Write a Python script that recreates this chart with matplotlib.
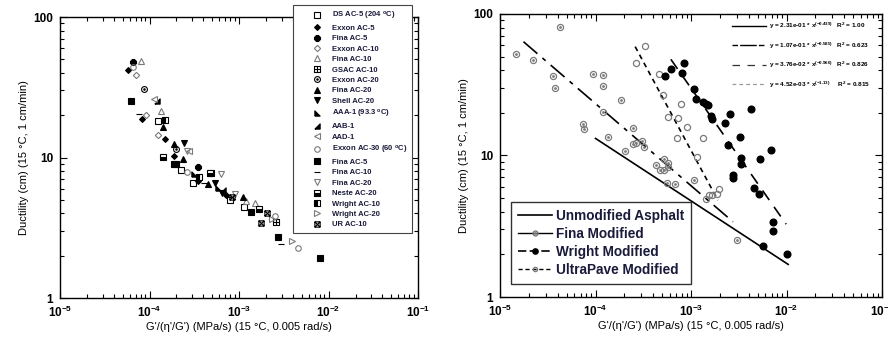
import numpy as np
import matplotlib
matplotlib.use("Agg")
import matplotlib.pyplot as plt
import matplotlib.ticker as mticker
from matplotlib.lines import Line2D
from matplotlib.path import Path

plt.rcParams['font.family'] = ['Liberation Sans', 'DejaVu Sans']
plt.rcParams['font.weight'] = 'bold'
plt.rcParams['mathtext.fontset'] = 'custom'
plt.rcParams['mathtext.rm'] = 'Liberation Sans:bold'
plt.rcParams['mathtext.it'] = 'Liberation Sans:bold'
plt.rcParams['mathtext.bf'] = 'Liberation Sans:bold'
plt.rcParams['mathtext.default'] = 'rm'

#--------------------------- left panel data ---------------------------
left_labels = ['DS AC-5 (204 $^{o}$C)', 'Exxon AC-5', 'Fina AC-5', 'Exxon AC-10', 'Fina AC-10',
               'GSAC AC-10', 'Exxon AC-20', 'Fina AC-20', 'Shell AC-20', 'AAA-1 (93.3 $^{o}$C)',
               'AAB-1', 'AAD-1', 'Exxon AC-30 (60 $^{o}$C)', 'Fina AC-5', 'Fina AC-10',
               'Fina AC-20', 'Neste AC-20', 'Wright AC-10', 'Wright AC-20', 'UR AC-10']

left_x = [[1.23e-4, 2.26e-4, 3.05e-4, 7.89e-4, 1.13e-3],
          [5.69e-5, 8.34e-5, 1.50e-4, 1.89e-4, 3.48e-4, 7.06e-4],
          [6.53e-5, 3.48e-4],
          [7.0e-5, 9.2e-5, 1.25e-4],
          [7.98e-5, 1.34e-4, 1.19e-3, 1.51e-3],
          [4.91e-4, 2.59e-3],
          [8.7e-5, 1.98e-4],
          [1.40e-4, 1.89e-4, 2.36e-4, 4.51e-4, 1.12e-3],
          [2.42e-4, 5.36e-4, 6.37e-4],
          [3.13e-4, 5.85e-4],
          [1.21e-4, 6.6e-4],
          [1.13e-4, 2.79e-4],
          [6.5e-5, 2.61e-4, 2.50e-3, 4.58e-3],
          [6.27e-5, 1.88e-4, 2.0e-4, 1.36e-3, 2.72e-3, 7.96e-3],
          [7.64e-5, 4.1e-4, 2.97e-3],
          [2.63e-4, 6.25e-4, 9.0e-4],
          [1.42e-4, 4.70e-4, 1.65e-3],
          [1.50e-4, 3.53e-4],
          [2.33e-3, 3.92e-3],
          [8.26e-4, 2.05e-3, 1.77e-3]]

left_y = [[18.3, 8.15, 6.62, 4.99, 4.47],
          [42.0, 18.9, 13.6, 10.3, 6.80, 5.41],
          [48.1, 8.6],
          [38.7, 20.0, 14.5],
          [48.6, 21.5, 4.90, 4.72],
          [7.76, 3.49],
          [30.6, 11.5],
          [16.6, 12.5, 9.71, 6.44, 5.26],
          [12.7, 6.55, 5.56],
          [7.63, 6.04],
          [25.4, 5.9],
          [26.2, 11.1],
          [44.0, 7.93, 3.85, 2.26],
          [25.2, 9.0, 9.0, 4.11, 2.73, 1.94],
          [20.4, 6.6, 2.41],
          [11.1, 7.59, 5.50],
          [10.1, 7.80, 4.30],
          [18.5, 7.30],
          [3.63, 2.56],
          [5.26, 4.01, 3.43]]

#--------------------------- right panel data ---------------------------
fina_x = [1.47e-5, 2.19e-5, 3.56e-5, 3.8e-5, 4.28e-5, 9.4e-5, 1.19e-4, 1.21e-4, 1.85e-4, 1.19e-4,
          7.4e-5, 7.66e-5, 1.36e-4, 2.49e-4, 2.49e-4, 2.64e-4, 3.05e-4, 3.25e-4, 2.04e-4, 4.28e-4,
          5.15e-4, 5.15e-4, 5.77e-4, 5.77e-4, 4.75e-4, 5.55e-4, 6.84e-4, 1.08e-3, 3.05e-3]
fina_y = [51.9, 47.3, 36.4, 30.1, 81.3, 37.6, 37.0, 31.1, 24.6, 20.4,
          16.6, 15.4, 13.5, 15.6, 12.0, 12.2, 12.6, 11.5, 10.7, 8.55,
          9.37, 7.87, 8.87, 8.3, 7.87, 6.41, 6.24, 6.68, 2.52]

wright_x = [5.37e-4, 6.16e-4, 8.51e-4, 7.97e-4, 1.08e-3, 1.13e-3, 1.33e-3, 1.44e-3, 1.49e-3, 1.63e-3,
            1.67e-3, 2.28e-3, 2.55e-3, 4.22e-3, 2.45e-3, 3.28e-3, 3.36e-3, 3.31e-3, 2.77e-3, 2.77e-3,
            5.24e-3, 6.84e-3, 4.57e-3, 5.16e-3, 7.24e-3, 7.24e-3, 5.67e-3, 1.0e-2]
wright_y = [36.4, 40.8, 44.8, 38.0, 29.3, 25.0, 24.0, 23.1, 22.7, 19.1,
            18.1, 17.1, 19.6, 21.3, 11.8, 13.6, 9.53, 8.69, 7.27, 6.98,
            9.42, 10.9, 5.85, 5.38, 3.40, 2.93, 2.30, 2.0]

ultra_x = [3.3e-4, 2.68e-4, 4.65e-4, 5.04e-4, 5.68e-4, 7.85e-4, 7.24e-4, 9.08e-4, 7.06e-4, 1.33e-3,
           1.15e-3, 1.42e-3, 1.56e-3, 1.64e-3, 1.88e-3, 1.94e-3]
ultra_y = [59.7, 44.8, 37.6, 26.7, 18.8, 23.3, 18.3, 16.0, 13.4, 13.3,
           9.8, 4.91, 5.24, 5.24, 5.33, 5.8]

# fitted power laws, end points
unmod_fit_x = [1.0e-4, 1.04e-2]
unmod_fit_y = [13.2, 1.70]
fina_fit_x = [1.76e-5, 2.75e-3]
fina_fit_y = [63.7, 3.40]
wright_fit_x = [6.15e-4, 9.9e-3]
wright_fit_y = [47.8, 3.27]
ultra_fit_x = [2.6e-4, 1.91e-3]
ultra_fit_y = [58.8, 4.83]

fit_labels = ['y = 2.31e-01 * x$^{(-0.439)}$   R$^2$ = 1.00',
              'y = 1.07e-01 * x$^{(-0.585)}$   R$^2$ = 0.623',
              'y = 3.76e-02 * x$^{(-0.966)}$   R$^2$ = 0.826',
              'y = 4.52e-03 * x$^{(-1.13)}$     R$^2$ = 0.815']

#--------------------------- marker shapes ---------------------------
circ = Path.unit_circle()
odot = Path.make_compound_path(circ, Path(circ.vertices * 0.25, circ.codes))
sq_v = [(-1, -1), (1, -1), (1, 1), (-1, 1), (-1, -1)]
sq_c = [Path.MOVETO, Path.LINETO, Path.LINETO, Path.LINETO, Path.CLOSEPOLY]
boxplus = Path(sq_v + [(-1, 0), (1, 0), (0, -1), (0, 1)],
               sq_c + [Path.MOVETO, Path.LINETO, Path.MOVETO, Path.LINETO])
boxtimes = Path(sq_v + [(-1, -1), (1, 1), (-1, 1), (1, -1)],
                sq_c + [Path.MOVETO, Path.LINETO, Path.MOVETO, Path.LINETO])
tri_ll = [(-1, -1), (1, -1), (-1, 1), (-1, -1)]
tri_lr = [(-1, -1), (1, -1), (1, 1), (-1, -1)]

G = '#7a7a7a'
K = 'black'
# marker, face, edge, size, fillstyle
left_styles = [('s', 'none', K, 3.8, 'full'),
               ('D', K, K, 3.0, 'full'),
               ('8', K, K, 4.0, 'full'),
               ('D', 'none', G, 3.2, 'full'),
               ('^', 'none', G, 3.8, 'full'),
               (boxplus, 'none', K, 3.8, 'full'),
               (odot, 'none', K, 4.2, 'full'),
               ('^', K, K, 4.0, 'full'),
               ('v', K, K, 4.0, 'full'),
               (tri_ll, K, K, 3.8, 'full'),
               (tri_lr, K, K, 3.8, 'full'),
               ('<', 'none', G, 3.8, 'full'),
               ('o', 'none', G, 4.0, 'full'),
               ('s', K, K, 4.2, 'full'),
               ('_', K, K, 5.0, 'full'),
               ('v', 'none', G, 3.8, 'full'),
               ('s', K, K, 3.8, 'bottom'),
               ('s', K, K, 3.8, 'left'),
               ('>', 'none', G, 3.8, 'full'),
               (boxtimes, 'none', K, 3.8, 'full')]


def style_log_axes(ax):
    ax.set_xscale('log')
    ax.set_yscale('log')
    ax.set_xlim(1e-5, 1e-1)
    ax.set_ylim(1, 100)
    ax.yaxis.set_major_formatter(mticker.FuncFormatter(lambda v, p: '%g' % v))
    ax.yaxis.set_minor_formatter(mticker.NullFormatter())
    ax.xaxis.set_minor_formatter(mticker.NullFormatter())
    ax.tick_params(which='both', direction='in', top=True, right=True, labelsize=8.5, width=0.8)
    ax.tick_params(which='major', length=5, pad=5)
    ax.tick_params(which='minor', length=3)
    for s in ax.spines.values():
        s.set_linewidth(1.0)
    ax.set_xlabel("G'/(\u03b7'/G') (MPa/s) (15 \u00b0C, 0.005 rad/s)", fontsize=8, labelpad=1)
    ax.set_ylabel('Ductility (cm) (15 \u00b0C, 1 cm/min)', fontsize=8, labelpad=3)


fig = plt.figure(figsize=(8.88, 3.38), dpi=100)

#--------------------------- left ---------------------------
ax1 = fig.add_axes([0.0676, 0.1183, 0.4032, 0.8314])
style_log_axes(ax1)
for lab, xs, ys, st in zip(left_labels, left_x, left_y, left_styles):
    mk, fc, ec, ms, fs = st
    ax1.plot(xs, ys, ls='none', marker=mk, mfc=fc, mec=ec, ms=ms, mew=0.8,
             fillstyle=fs, markerfacecoloralt='white', label=lab)
leg1 = ax1.legend(loc='upper left', bbox_to_anchor=(0.651, 1.043), borderaxespad=0,
                  fancybox=False, edgecolor='#444444', framealpha=1, handlelength=5.0,
                  handletextpad=-0.5, labelspacing=0.40, borderpad=0.6,
                  prop={'family': ['Liberation Sans', 'DejaVu Sans'], 'weight': 'bold', 'size': 5.5})
leg1.get_frame().set_linewidth(0.8)
for t in leg1.get_texts():
    t.set_color('#1a1a3a')
leg1.set_zorder(5)

#--------------------------- right ---------------------------
ax2 = fig.add_axes([0.5631, 0.1213, 0.4302, 0.8373])
style_log_axes(ax2)
ax2.plot(unmod_fit_x, unmod_fit_y, color=K, lw=1.2)
ax2.plot(fina_fit_x, fina_fit_y, color=K, lw=1.2, ls=(0, (11, 4, 2.5, 4)))
ax2.plot(wright_fit_x, wright_fit_y, color=K, lw=1.2, ls=(0, (7, 5)))
ax2.plot(ultra_fit_x, ultra_fit_y, color=K, lw=1.2, ls=(0, (3, 2.5)))
ax2.plot(fina_x, fina_y, ls='none', marker=odot, mfc='none', mec=G, ms=4.4, mew=0.9)
ax2.plot(ultra_x, ultra_y, ls='none', marker='o', mfc='none', mec=G, ms=4.4, mew=0.9)
ax2.plot(wright_x, wright_y, ls='none', marker='o', mfc=K, mec=K, ms=4.8)

fit_handles = [Line2D([], [], color=K, lw=1.0),
               Line2D([], [], color=K, lw=1.0, ls=(0, (4, 1.5, 12, 1.5))),
               Line2D([], [], color='#333333', lw=0.9, ls=(0, (6, 6))),
               Line2D([], [], color='#999999', lw=0.9, ls=(0, (3, 2.5)))]
leg_fit = ax2.legend(fit_handles, fit_labels, loc='upper right', bbox_to_anchor=(0.975, 0.985),
                     borderaxespad=0, frameon=False, handlelength=5.4, handletextpad=0.4,
                     labelspacing=1.45, prop={'weight': 'bold', 'size': 4.6})
ax2.add_artist(leg_fit)

main_handles = [Line2D([], [], color=K, lw=1.2),
                Line2D([], [], color=K, lw=1.0, marker=odot, mfc='none', mec=G, ms=3.5),
                Line2D([], [], color=K, lw=1.2, ls=(0, (5, 2)), marker='o', mfc=K, mec=K, ms=3.8),
                Line2D([], [], color=K, lw=1.0, ls=(0, (3, 2)), marker='o', mfc='none', mec=G, ms=3.0)]
main_labels = ['Unmodified Asphalt', 'Fina Modified', 'Wright Modified', 'UltraPave Modified']
leg2 = ax2.legend(main_handles, main_labels, loc='lower left', bbox_to_anchor=(0.029, 0.046),
                  borderaxespad=0, fancybox=False, edgecolor='#333333', framealpha=1,
                  handlelength=2.5, handletextpad=0.3, labelspacing=0.3, borderpad=0.5,
                  prop={'weight': 'bold', 'size': 9.8})
leg2.get_frame().set_linewidth(1.0)
for t in leg2.get_texts():
    t.set_color('#1a1a3a')

fig.savefig('out.png', dpi=100, facecolor='white')
